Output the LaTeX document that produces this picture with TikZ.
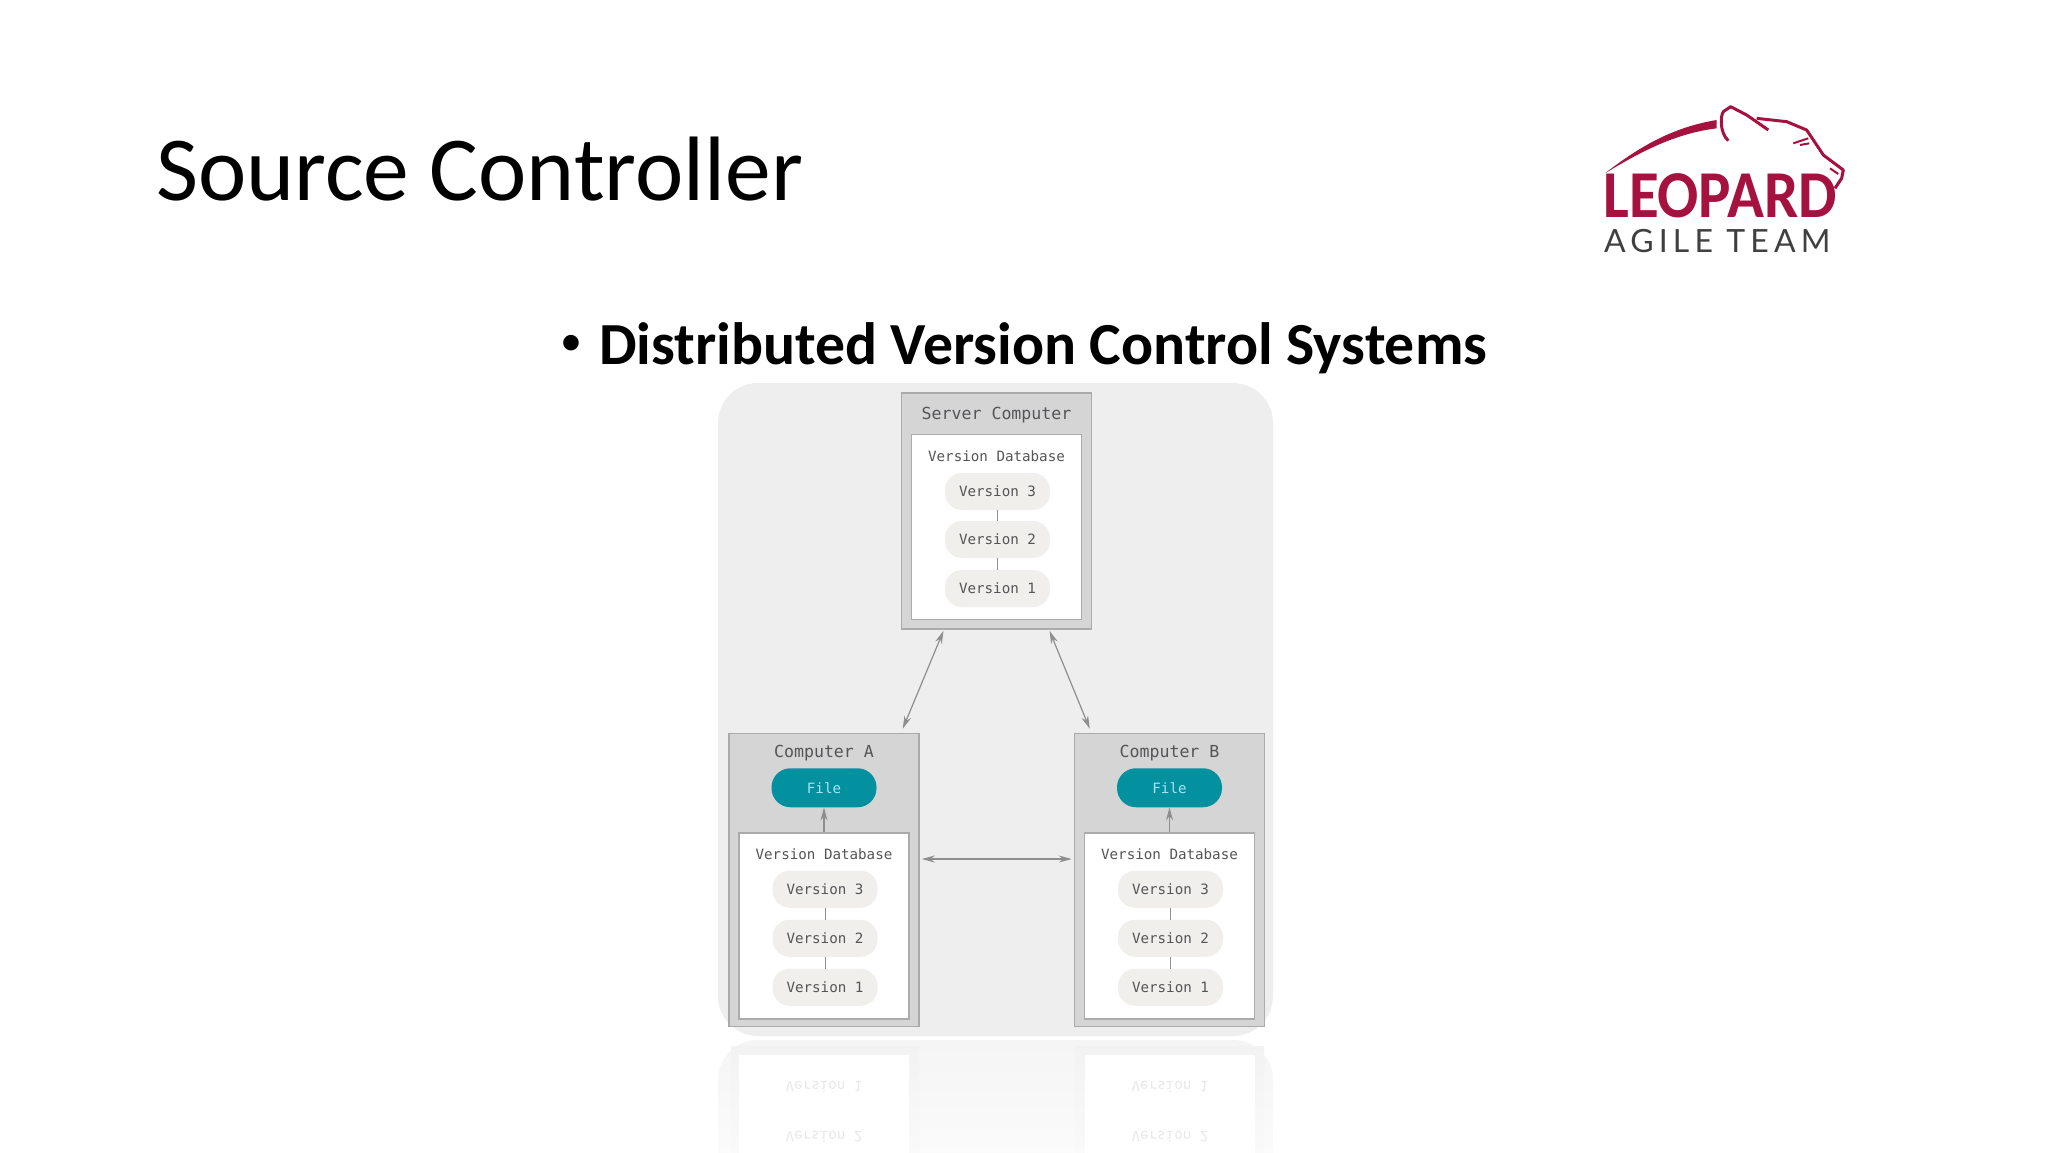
\documentclass[tikz,border=0pt]{standalone}
\usepackage{fontspec}
\setmainfont{Carlito}
\newfontfamily\boxfont{DejaVu Sans Mono}
\newfontfamily\teamfont[LetterSpace=16]{Lato}
\usetikzlibrary{positioning}
\usetikzlibrary{arrows.meta}
\definecolor{panelgray}{HTML}{EEEEEF}
\definecolor{boxgray}{HTML}{D5D5D6}
\definecolor{edgegray}{HTML}{ABABAC}
\definecolor{linegray}{HTML}{8E8E8E}
\definecolor{pillgray}{HTML}{F0EFEB}
\definecolor{textgray}{HTML}{555558}
\definecolor{fileteal}{HTML}{03919F}
\definecolor{logored}{HTML}{A5123F}
\tikzstyle{computer} = [draw=edgegray, line width=1.5pt, fill=boxgray, rectangle, minimum width=190pt, inner sep=0pt]
\tikzstyle{database} = [draw=edgegray, line width=1.5pt, fill=white, rectangle, minimum width=170pt, inner sep=0pt, anchor=center]
\tikzstyle{version} = [fill=pillgray, rounded corners=17pt, minimum width=105pt, minimum height=37pt, inner sep=0pt, text=textgray, font=\boxfont\fontsize{14.2}{16}\selectfont]
\tikzstyle{file} = [fill=fileteal, rounded corners=19pt, minimum width=105pt, minimum height=39pt, inner sep=0pt, text=cyan!35, font=\boxfont\fontsize{14.2}{16}\selectfont]
\tikzstyle{head} = [inner sep=0pt, text=textgray, font=\boxfont\fontsize{16.6}{18}\selectfont]
\tikzstyle{dbhead} = [inner sep=0pt, text=textgray, font=\boxfont\fontsize{14.2}{16}\selectfont]
\tikzstyle{flipped} = [inner sep=0pt, text=black!9, yscale=-1, transform shape, font=\boxfont\fontsize{14.2}{16}\selectfont]
\tikzstyle{fadebox} = [top color=black!4, bottom color=white, draw=none]
\begin{document}
\begin{tikzpicture}[x=1pt,y=-1pt,on grid,>={Stealth[length=13pt,width=7pt]}]
    \useasboundingbox (0,0) rectangle (2048,1152);
    \fill[white] (0,0) rectangle (2048,1152);

    \node [anchor=base west, inner sep=0pt, font=\fontsize{91.5}{94}\selectfont] (title) at (156,200) {Source Controller};
    \node [anchor=base west, inner sep=0pt, font=\bfseries\fontsize{59.7}{60}\selectfont] (bullet) at (599,364) {Distributed Version Control Systems};
    \node [anchor=base, inner sep=0pt, font=\fontsize{44}{44}\selectfont] (dot) at (571,355) {\textbullet};

    % logo
    \node [anchor=base west, inner sep=0pt, text depth=0pt, text=logored, font=\bfseries\fontsize{67}{67}\selectfont] (leopard) at (1603,217) {\scalebox{0.91}[1]{LEOPARD}};
    \node [anchor=base west, inner sep=0pt, text height=23pt, text=black!75, font=\teamfont\fontsize{32}{32}\selectfont] (team) at (1604,252) {AGILE TEAM};
    \begin{scope}[shift={(1560,80)},x=0.3333pt,y=-0.3333pt]
        \fill[logored] (135,280) .. controls (250,190) and (350,140) .. (470,120) -- (470,145) .. controls (350,160) and (250,210) .. (135,280) -- cycle;
        \draw[logored, line width=3pt, line join=round] (505,182) .. controls (480,160) and (480,110) .. (490,95) -- (512,80) -- (560,105) -- (625,150);
        \draw[logored, line width=3pt, line join=round] (590,115) -- (680,125) -- (740,150) -- (790,225) -- (850,270) -- (845,295) -- (825,325);
        \draw[logored, line width=2pt] (700,190) -- (745,175) (720,195) -- (748,190) (810,265) -- (835,282);
    \end{scope}

    % panel and its reflection
    \path [fadebox, rounded corners=40pt] (718,1040) rectangle (1273,1230);
    \path [top color=black!5, bottom color=black!1] (731,1046) rectangle (919,1190);
    \path [top color=black!5, bottom color=black!1] (1075,1046) rectangle (1264,1190);
    \fill [white] (739,1055) rectangle (909,1190);
    \fill [white] (1085,1055) rectangle (1255,1190);
    \node [flipped] (flipa1) at (824,1087) {Version 1};
    \node [flipped] (flipa2) at (824,1137) {Version 2};
    \node [flipped] (flipb1) at (1170,1087) {Version 1};
    \node [flipped] (flipb2) at (1170,1137) {Version 2};
    \fill [panelgray, rounded corners=40pt] (718,383) rectangle (1273,1036);

    % server computer
    \node [computer, minimum height=236pt] (server) at (996.5,511) {};
    \node [head, below=23pt of server.north, anchor=center] (serverhead) {Server Computer};
    \node [database, minimum height=185pt, below=134.5pt of server.north, anchor=center] (serverdb) {};
    \node [dbhead, below=23pt of serverdb.north, anchor=center] (serverdbhead) {Version Database};
    \node [version, below=35pt of serverdbhead, xshift=1pt] (sv3) {Version 3};
    \node [version, below=48pt of sv3] (sv2) {Version 2};
    \node [version, below=49pt of sv2] (sv1) {Version 1};

    % computer a
    \node [computer, minimum height=293pt] (compa) at (824,880) {};
    \node [head, below=20pt of compa.north, anchor=center] (compahead) {Computer A};
    \node [file, below=35pt of compahead] (filea) {File};
    \node [database, minimum height=186pt, below=46pt of compa.center, anchor=center] (compadb) {};
    \node [dbhead, below=22pt of compadb.north, anchor=center] (compadbhead) {Version Database};
    \node [version, below=35pt of compadbhead, xshift=1pt] (av3) {Version 3};
    \node [version, below=49pt of av3] (av2) {Version 2};
    \node [version, below=49pt of av2] (av1) {Version 1};

    % computer b
    \node [computer, minimum height=293pt] (compb) at (1169.5,880) {};
    \node [head, below=20pt of compb.north, anchor=center] (compbhead) {Computer B};
    \node [file, below=35pt of compbhead] (fileb) {File};
    \node [database, minimum height=186pt, below=46pt of compb.center, anchor=center] (compbdb) {};
    \node [dbhead, below=22pt of compbdb.north, anchor=center] (compbdbhead) {Version Database};
    \node [version, below=35pt of compbdbhead, xshift=1pt] (bv3) {Version 3};
    \node [version, below=49pt of bv3] (bv2) {Version 2};
    \node [version, below=49pt of bv2] (bv1) {Version 1};

    \draw [linegray, line width=1pt] (sv3) -- (sv2); % connections
    \draw [linegray, line width=1pt] (sv2) -- (sv1);
    \draw [linegray, line width=1pt] (av3) -- (av2);
    \draw [linegray, line width=1pt] (av2) -- (av1);
    \draw [linegray, line width=1pt] (bv3) -- (bv2);
    \draw [linegray, line width=1pt] (bv2) -- (bv1);

    \draw [<->, linegray, line width=1.2pt] ([xshift=-53pt,yshift=-1pt]server.south) -- ([xshift=-17pt,yshift=4pt]compa.north east);
    \draw [<->, linegray, line width=1.2pt] ([xshift=53pt,yshift=-1pt]server.south) -- ([xshift=16pt,yshift=4pt]compb.north west);
    \draw [<->, linegray, line width=1.5pt] ([xshift=2pt,yshift=21pt]compa.east) -- ([xshift=-2pt,yshift=21pt]compb.west);
    \draw [->, linegray, line width=1.5pt] (compadb) -- (filea);
    \draw [->, linegray, line width=1.5pt] (compbdb) -- (fileb);
\end{tikzpicture}
\end{document}
